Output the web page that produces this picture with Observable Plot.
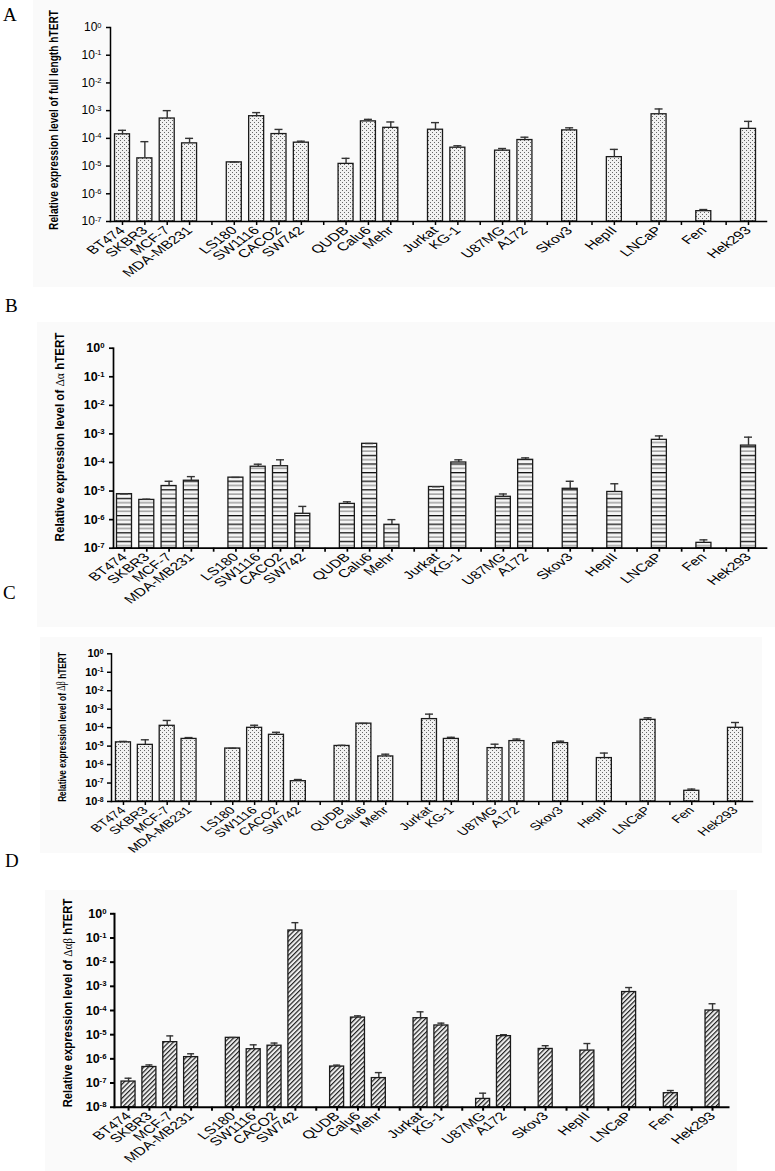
<!DOCTYPE html>
<html>
<head>
<meta charset="utf-8">
<script src="https://cdn.jsdelivr.net/npm/d3@7"></script>
<script src="https://cdn.jsdelivr.net/npm/@observablehq/plot@0.6"></script>
<style>
  html, body { margin: 0; padding: 0; background: #ffffff; }
  #root { position: relative; width: 775px; height: 1171px; overflow: hidden; font-family: "Liberation Sans", Arial, sans-serif; }
  .panel { position: absolute; left: 0; }
  .bg { position: absolute; background: #fafafa; }
  .letter { position: absolute; font-family: "Liberation Serif", "Times New Roman", serif; font-size: 19px; color: #000; line-height: 1; }
</style>
</head>
<body>
<svg width="0" height="0" style="position:absolute">
  <defs>
    <pattern id="dots" width="4" height="4" patternUnits="userSpaceOnUse">
      <rect width="4" height="4" fill="#f1f1f1"/>
      <rect x="0" y="0" width="1" height="1" fill="#666"/>
      <rect x="2" y="2" width="1" height="1" fill="#666"/>
    </pattern>
    <pattern id="hstripe" width="10" height="8.6" patternUnits="userSpaceOnUse">
      <rect width="10" height="8.6" fill="#f6f6f6"/>
      <rect y="0" width="10" height="1.3" fill="#111"/>
      <rect y="4.3" width="10" height="1.2" fill="#8a8a8a"/>
    </pattern>
    <pattern id="hatch" width="10" height="3.3" patternUnits="userSpaceOnUse" patternTransform="rotate(-45)">
      <rect width="10" height="3.3" fill="#efefef"/>
      <rect y="0" width="10" height="1.2" fill="#222"/>
    </pattern>
  </defs>
</svg>
<div id="root">
  <div class="bg" style="left:33px;top:0px;width:742px;height:287px"></div>
  <div class="bg" style="left:37px;top:322px;width:738px;height:305px"></div>
  <div class="bg" style="left:40px;top:637px;width:722px;height:216px"></div>
  <div class="bg" style="left:45px;top:890px;width:692px;height:281px"></div>
  <div class="letter" style="left:3px;top:5px">A</div>
  <div class="letter" style="left:5px;top:296px">B</div>
  <div class="letter" style="left:3px;top:583px">C</div>
  <div class="letter" style="left:5px;top:851px">D</div>
</div>
<script>
// ---------- data ----------
const categories = ["BT474","SKBR3","MCF-7","MDA-MB231","gap1","LS180","SW1116","CACO2","SW742","gap2",
  "QUDB","Calu6","Mehr","gap3","Jurkat","KG-1","gap4","U87MG","A172","gap5","Skov3","gap6","HepII","gap7",
  "LNCaP","gap8","Fen","gap9","Hek293"];
const cellLines = ["BT474","SKBR3","MCF-7","MDA-MB231","LS180","SW1116","CACO2","SW742","QUDB","Calu6","Mehr",
  "Jurkat","KG-1","U87MG","A172","Skov3","HepII","LNCaP","Fen","Hek293"];

// A: full length hTERT (mean, upper error bound)
const fullMean  = [1.4e-4, 1.9e-5, 5.2e-4, 6.6e-5, 1.36e-5, 6.3e-4, 1.43e-4, 7.0e-5, 1.2e-5, 4.1e-4, 2.4e-4,
  2.05e-4, 4.6e-5, 3.6e-5, 8.7e-5, 1.94e-4, 2.1e-5, 7.4e-4, 2.36e-7, 2.2e-4];
const fullUpper = [1.95e-4, 7.6e-5, 1.0e-3, 1.0e-4, 1.4e-5, 8.5e-4, 2.1e-4, 7.9e-5, 1.9e-5, 4.85e-4, 3.9e-4,
  3.7e-4, 5.4e-5, 4.3e-5, 1.1e-4, 2.4e-4, 4.0e-5, 1.15e-3, 2.7e-7, 4.1e-4];
// B: Δα hTERT
const alphaMean  = [7.8e-6, 4.9e-6, 1.5e-5, 2.3e-5, 2.95e-5, 7.1e-5, 7.4e-5, 1.6e-6, 3.55e-6, 4.5e-4, 6.6e-7,
  1.39e-5, 1.0e-4, 6.3e-6, 1.24e-4, 1.2e-5, 9.3e-6, 6.2e-4, 1.54e-7, 3.9e-4];
const alphaUpper = [8.0e-6, 5.2e-6, 2.2e-5, 3.2e-5, 3.0e-5, 8.7e-5, 1.24e-4, 2.9e-6, 4.2e-6, 4.6e-4, 1.0e-6,
  1.42e-5, 1.24e-4, 7.9e-6, 1.45e-4, 2.2e-5, 1.8e-5, 8.5e-4, 1.96e-7, 7.7e-4];
// C: Δβ hTERT
const betaMean  = [1.6e-5, 1.17e-5, 1.26e-4, 2.45e-5, 7.4e-6, 9.8e-5, 4.1e-5, 1.26e-7, 1.02e-5, 1.65e-4, 2.76e-6,
  2.9e-4, 2.45e-5, 7.8e-6, 1.87e-5, 1.45e-5, 2.25e-6, 2.65e-4, 3.8e-8, 9.8e-5];
const betaUpper = [1.8e-5, 2.2e-5, 2.45e-4, 2.9e-5, 7.6e-6, 1.35e-4, 5.6e-5, 1.55e-7, 1.1e-5, 1.7e-4, 3.65e-6,
  5.4e-4, 3.0e-5, 1.27e-5, 2.4e-5, 1.85e-5, 4.2e-6, 3.4e-4, 4.7e-8, 1.9e-4];
// D: Δαβ hTERT
const abMean  = [1.15e-7, 4.6e-7, 4.9e-6, 1.18e-6, 7.4e-6, 2.5e-6, 3.5e-6, 0.204, 4.8e-7, 5.1e-5, 1.6e-7,
  4.8e-5, 2.4e-5, 2.2e-8, 8.7e-6, 2.57e-6, 2.2e-6, 5.8e-4, 3.8e-8, 1.0e-4];
const abUpper = [1.58e-7, 5.6e-7, 8.9e-6, 1.62e-6, 7.6e-6, 3.8e-6, 4.5e-6, 0.43, 5.5e-7, 6.0e-5, 2.7e-7,
  8.8e-5, 3.0e-5, 3.8e-8, 1.0e-5, 3.5e-6, 4.3e-6, 8.9e-4, 4.9e-8, 1.9e-4];

const yTicks7 = [1e-7, 1e-6, 1e-5, 1e-4, 1e-3, 1e-2, 1e-1, 1];
const yTicks8 = [1e-8, 1e-7, 1e-6, 1e-5, 1e-4, 1e-3, 1e-2, 1e-1, 1];

const titleA = [["Relative expression level of full length hTERT", false]];
const titleB = [["Relative expression level of ", false], ["\u0394\u03B1", true], [" hTERT", false]];
const titleC = [["Relative expression level of ", false], ["\u0394\u03B2", true], [" hTERT", false]];
const titleD = [["Relative expression level of ", false], ["\u0394\u03B1\u03B2", true], [" hTERT", false]];

// ---------- drawing ----------
const NS = "http://www.w3.org/2000/svg";
const root = document.getElementById("root");
const STRETCH = 1.38; // the reference figure is stretched horizontally

function panel(cfg) {
  const rows = cellLines.map((name, i) => ({name, mean: cfg.mean[i], upper: cfg.upper[i]}));
  const yMin = cfg.ticks[0];
  const plot = Plot.plot({
    width: 775,
    height: cfg.height,
    marginTop: cfg.marginTop,
    marginBottom: cfg.marginBottom,
    marginLeft: cfg.marginLeft,
    marginRight: cfg.marginRight,
    style: {fontFamily: "'Liberation Sans', Arial, sans-serif", background: "transparent", color: "#000", overflow: "visible"},
    x: {domain: categories, paddingInner: cfg.pi, paddingOuter: cfg.po, align: cfg.align, round: false, axis: null},
    y: {type: "log", domain: [yMin, 1], axis: null},
    marks: [
      Plot.barY(rows, {x: "name", y1: () => yMin, y2: "mean", fill: `url(#${cfg.pattern})`, stroke: "#1a1a1a", strokeWidth: 1.3}),
      Plot.ruleX(rows, {x: "name", y1: "mean", y2: "upper", stroke: "#333", strokeWidth: 1.4}),
      Plot.tickY(rows, {x: "name", y: "upper", stroke: "#333", strokeWidth: 1.4, insetLeft: 3.5, insetRight: 3.5}),
      Plot.axisY({ticks: cfg.ticks, tickFormat: d => String(Math.round(Math.log10(d))), tickSize: 4, tickPadding: cfg.yPad,
        fontSize: cfg.yFont, fontWeight: cfg.yWeight, label: null, strokeWidth: cfg.axisW, stroke: "#000"}),
      Plot.axisX({tickRotate: -45, tickFormat: d => d.startsWith("gap") ? "" : d, tickSize: 4, tickPadding: 3,
        fontSize: cfg.xFont, label: null, strokeWidth: cfg.axisW, stroke: "#000"}),
      Plot.frame({anchor: "left", stroke: "#000", strokeWidth: cfg.axisW}),
      Plot.frame({anchor: "bottom", stroke: "#000", strokeWidth: cfg.axisW})
    ]
  });

  // y tick labels as 10 with superscript exponent
  plot.querySelectorAll('g[aria-label="y-axis tick label"] text').forEach(t => {
    const e = t.textContent;
    while (t.firstChild) t.removeChild(t.firstChild);
    const base = document.createElementNS(NS, "tspan");
    base.textContent = "10";
    const sup = document.createElementNS(NS, "tspan");
    sup.textContent = e;
    sup.setAttribute("dy", "-0.5em");
    sup.setAttribute("font-size", "0.62em");
    t.appendChild(base);
    t.appendChild(sup);
  });

  // x tick labels: emulate horizontal stretch of the reference
  plot.querySelectorAll('g[aria-label="x-axis tick label"] text').forEach(t => {
    const tr = t.getAttribute("transform");
    if (tr && /rotate\(/.test(tr)) t.setAttribute("transform", tr.replace(/rotate\(/, `scale(${STRETCH},1) rotate(`));
  });

  const div = document.createElement("div");
  div.className = "panel";
  div.style.top = cfg.top + "px";
  div.appendChild(plot);
  root.appendChild(div);

  // y axis title, fitted to the reference length
  const tt = document.createElementNS(NS, "text");
  tt.setAttribute("text-anchor", "middle");
  tt.setAttribute("dominant-baseline", "middle");
  tt.setAttribute("font-size", 10);
  tt.setAttribute("font-weight", "bold");
  tt.setAttribute("font-family", "'Liberation Sans', Arial, sans-serif");
  tt.setAttribute("fill", "#000");
  cfg.title.parts.forEach(([s, greek]) => {
    const ts = document.createElementNS(NS, "tspan");
    ts.textContent = s;
    if (greek) {
      ts.setAttribute("font-family", "'Liberation Serif', 'Times New Roman', serif");
      ts.setAttribute("font-weight", "normal");
    }
    tt.appendChild(ts);
  });
  plot.appendChild(tt);
  const natural = tt.getComputedTextLength() || 230;
  const fs = 10 * cfg.title.len / natural;
  tt.setAttribute("font-size", fs.toFixed(2));
  const sx = cfg.title.visual / fs;
  tt.setAttribute("transform", `translate(${cfg.title.cx},${cfg.title.cy}) scale(${sx.toFixed(3)},1) rotate(-90)`);
}

panel({top: 0, height: 290, marginTop: 27, marginBottom: 69, marginLeft: 110, marginRight: 9,
  pi: 0.329, po: 0.3355, align: 0.3, ticks: yTicks7, mean: fullMean, upper: fullUpper, pattern: "dots",
  yFont: 12, yWeight: "normal", yPad: 5, xFont: 11.5, axisW: 1.5,
  title: {cx: 55, cy: 120, len: 220, visual: 12.5, parts: titleA}});

panel({top: 300, height: 310, marginTop: 47.7, marginBottom: 62.3, marginLeft: 113, marginRight: 9,
  pi: 0.327, po: 0.314, align: 0.25, ticks: yTicks7, mean: alphaMean, upper: alphaUpper, pattern: "hstripe",
  yFont: 12.5, yWeight: "bold", yPad: 5, xFont: 11.5, axisW: 1.7,
  title: {cx: 61, cy: 137, len: 209, visual: 13, parts: titleB}});

panel({top: 590, height: 280, marginTop: 63.3, marginBottom: 69, marginLeft: 111, marginRight: 23,
  pi: 0.314, po: 0.32, align: 0.32, ticks: yTicks8, mean: betaMean, upper: betaUpper, pattern: "dots",
  yFont: 11, yWeight: "bold", yPad: 4, xFont: 10.5, axisW: 1.5,
  title: {cx: 63, cy: 137, len: 150, visual: 11.5, parts: titleC}});

panel({top: 860, height: 311, marginTop: 53.3, marginBottom: 64.3, marginLeft: 114, marginRight: 47,
  pi: 0.329, po: 0.384, align: 0.44, ticks: yTicks8, mean: abMean, upper: abUpper, pattern: "hatch",
  yFont: 12.5, yWeight: "bold", yPad: 4, xFont: 11.5, axisW: 2,
  title: {cx: 69, cy: 143, len: 209, visual: 13, parts: titleD}});
</script>
</body>
</html>
